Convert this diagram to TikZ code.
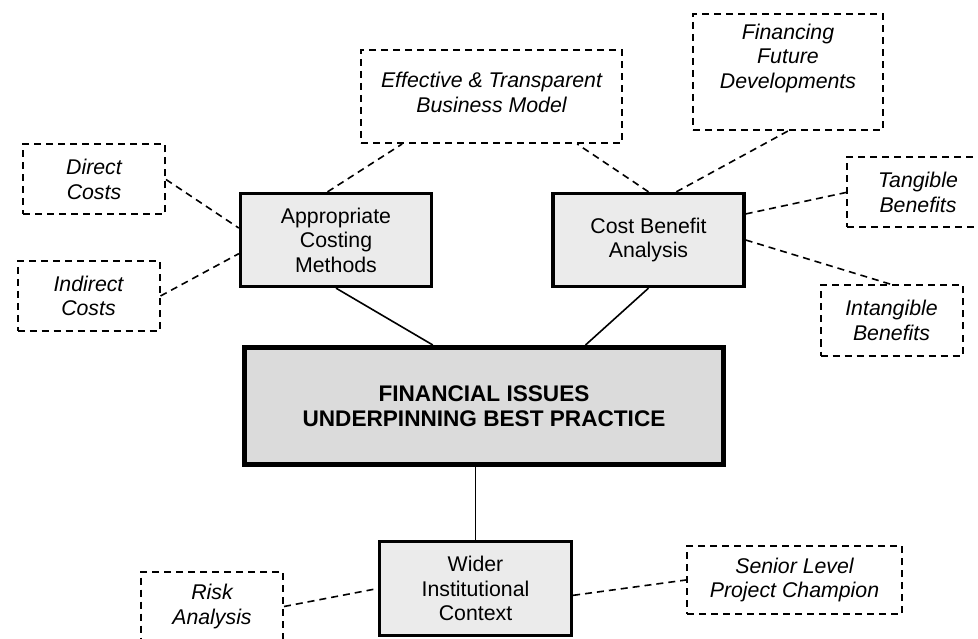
\documentclass[tikz,border=0pt]{standalone}
\usepackage{fontspec}
\setmainfont{Liberation Sans}
\usetikzlibrary{positioning}

\begin{document}
\begin{tikzpicture}
        [x=1pt, y=-1pt,
         every node/.style={font=\fontsize{21.3}{24.5}\selectfont, align=center, inner sep=2pt},
         core/.style={rectangle, draw, line width=5pt, fill=black!14, minimum width=479pt, minimum height=117pt, font=\fontsize{22.6}{24.5}\selectfont\bfseries},
         topic/.style={rectangle, draw, line width=3.3pt, fill=black!8, minimum width=191pt, minimum height=93pt},
         aspect/.style={rectangle, draw, line width=2pt, dash pattern=on 7pt off 5pt, minimum width=142pt, minimum height=70pt, font=\fontsize{21.3}{24.5}\selectfont\itshape},
         link/.style={line width=1.6pt},
         hint/.style={line width=1.6pt, dash pattern=on 7pt off 5pt}]
        \useasboundingbox (0,0) rectangle (978,639);

        \node[core] (fin) at (484,406) {FINANCIAL ISSUES\\UNDERPINNING BEST PRACTICE};
        \node[topic] (cost) at (336,240) {Appropriate\\Costing\\Methods};
        \node[topic] (benefit) at (648.5,240) {Cost Benefit\\Analysis};
        \node[topic, minimum width=192pt, minimum height=94pt] (wider) at (475.5,588.5) {Wider\\Institutional\\Context};

        \node[aspect] (direct) at (94,179.5) {Direct\\Costs};
        \node[aspect] (indirect) at (88.5,296) {Indirect\\Costs};
        \node[aspect, minimum width=261pt, minimum height=93pt, text depth=8pt] (model) at (491.5,96.5) {Effective \& Transparent\\Business Model};
        \node[aspect, minimum width=190pt, minimum height=116pt] (future) at (788,72) {Financing\\Future\\Developments\\ \strut};
        \node[aspect] (tangible) at (918,192.5) {Tangible\\Benefits};
        \node[aspect] (intangible) at (891.5,320.5) {Intangible\\Benefits};
        \node[aspect] (risk) at (212,606.5) {Risk\\Analysis};
        \node[aspect, minimum width=215pt, minimum height=68pt] (senior) at (794.5,580) {Senior Level\\Project Champion};

        \path[link] (cost.south) edge (fin.130)
                    (benefit.south) edge (fin.31)
                    (wider.north) edge (wider.north |- fin.south);
        \path[hint] (direct.east) edge (cost.173)
                    (indirect.east) edge (cost.188)
                    (cost.100) edge (model.208)
                    (benefit.north) edge (model.331)
                    (benefit.60) edge (future.south)
                    (benefit.15) edge (tangible.west)
                    (benefit.east) edge (intangible.north)
                    (risk.east) edge (wider.west)
                    (wider.-4) edge (senior.west);
    \end{tikzpicture}
\end{document}
